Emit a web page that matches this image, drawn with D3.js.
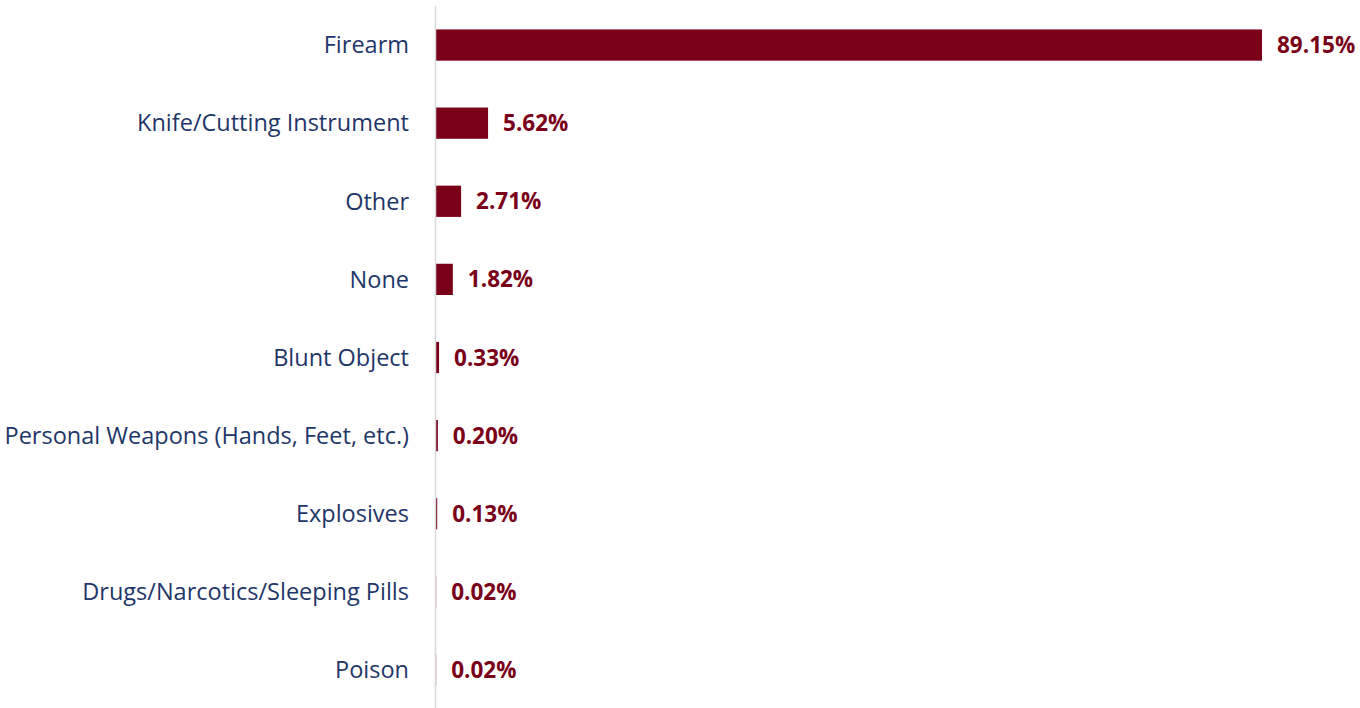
<!DOCTYPE html>
<html><head><meta charset="utf-8">
<script src="https://cdn.jsdelivr.net/npm/d3@7"></script>
<style>body{margin:0;background:#fff;}svg{display:block;}</style>
</head><body>
<svg id="chart" width="1360" height="708"></svg>
<script>
const categories = ["Firearm","Knife/Cutting Instrument","Other","None","Blunt Object","Personal Weapons (Hands, Feet, etc.)","Explosives","Drugs/Narcotics/Sleeping Pills","Poison"];
const values = [89.15, 5.62, 2.71, 1.82, 0.33, 0.20, 0.13, 0.02, 0.02];
const valueLabels = ["89.15%","5.62%","2.71%","1.82%","0.33%","0.20%","0.13%","0.02%","0.02%"];

const svg = d3.select("#chart");
const x0 = 436;
const x = d3.scaleLinear().domain([0, 100]).range([x0, x0 + 826/89.15*100]);
const y = d3.scaleBand().domain(categories).range([6, 709]).paddingInner(0.6).paddingOuter(0.3);

const barColor = "#7a0019";
svg.selectAll("rect.bar").data(values).enter().append("rect")
  .attr("class","bar")
  .attr("x", x(0))
  .attr("y", (d,i)=>y(categories[i]))
  .attr("width", d=>x(d)-x(0))
  .attr("height", y.bandwidth())
  .attr("fill", barColor);

svg.append("line").attr("x1",435.5).attr("x2",435.5).attr("y1",6).attr("y2",708)
  .attr("stroke","#d9d9d9").attr("stroke-width",1.5);

svg.selectAll("text.cat").data(categories).enter().append("text")
  .attr("class","cat")
  .attr("x", 409)
  .attr("y", d=>y(d)+y.bandwidth()/2)
  .attr("dy","0.35em")
  .attr("text-anchor","end")
  .attr("font-family","'Open Sans', sans-serif")
  .attr("font-size", 23.5)
  .attr("fill","#1f3668")
  .text(d=>d);

svg.selectAll("text.val").data(values).enter().append("text")
  .attr("class","val")
  .attr("x", d=>x(d)+15)
  .attr("y", (d,i)=>y(categories[i])+y.bandwidth()/2)
  .attr("dy","0.36em")
  .attr("font-family","'Open Sans', sans-serif")
  .attr("font-weight","bold")
  .attr("font-size", 22.5)
  .attr("fill","#7a0019")
  .text((d,i)=>valueLabels[i]);
</script>
</body></html>
